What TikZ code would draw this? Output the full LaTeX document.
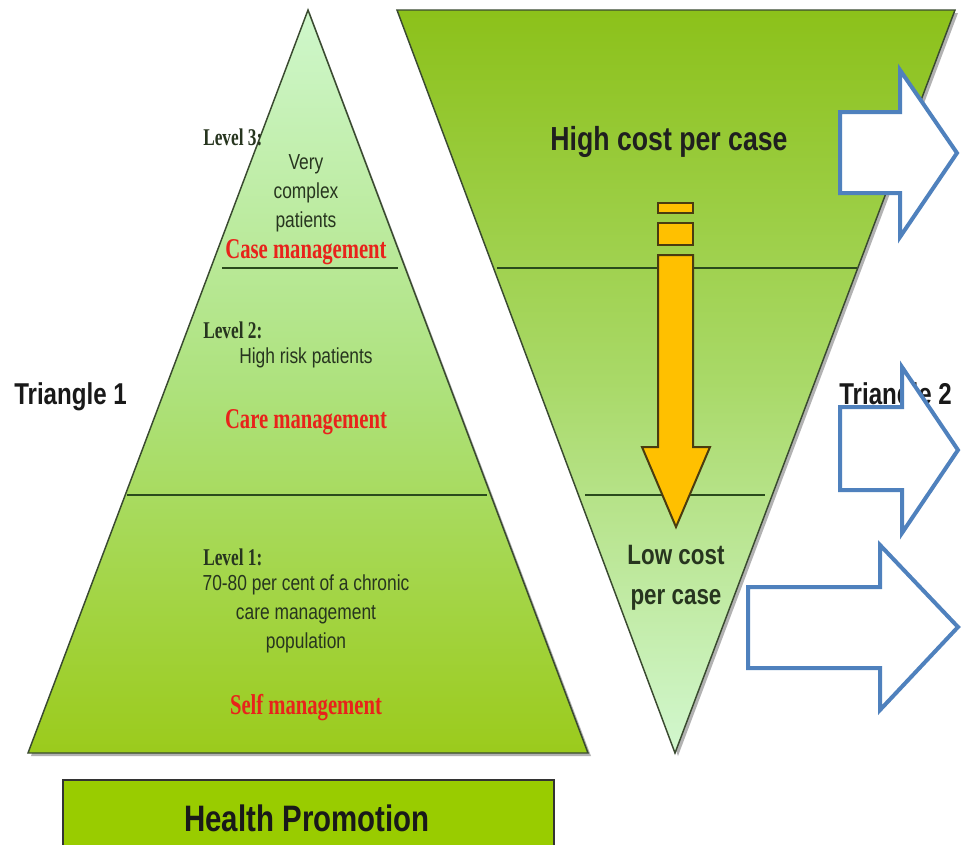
\documentclass[tikz,border=0pt]{standalone}
\usepackage{fontspec}
\setmainfont{Liberation Sans}
\newfontfamily\nsans[FakeStretch=0.8]{Liberation Sans}
\newfontfamily\nserif[FakeStretch=0.72]{Liberation Serif}
\definecolor{tone}{HTML}{27351F}
\definecolor{redlab}{HTML}{E8231B}
\definecolor{divline}{HTML}{2A4A1C}
\definecolor{blueA}{HTML}{4F81BD}
\definecolor{orangeA}{HTML}{FFC000}
\definecolor{orangeL}{HTML}{4A3C10}
\definecolor{hpgreen}{HTML}{99CC00}
\definecolor{edge}{HTML}{3A4A30}
\definecolor{tAlight}{HTML}{CFF7CC}
\definecolor{tAmid}{HTML}{AEE27E}
\definecolor{tAdark}{HTML}{9BCB1C}
\definecolor{tBdark}{HTML}{8CC11A}
\definecolor{tBmid}{HTML}{A9D968}
\definecolor{tBlight}{HTML}{D2F7CF}
\tikzset{
  bodytext/.style={inner sep=0pt, text=tone, font=\nsans\fontsize{16.3}{21.8}\selectfont, align=center},
  redtext/.style={inner sep=0pt, text=redlab, font=\nserif\bfseries\fontsize{21.5}{24}\selectfont},
  lvltext/.style={inner sep=0pt, text=tone, anchor=west, font=\nserif\bfseries\fontsize{18}{20}\selectfont},
  bigtext/.style={inner sep=0pt, text=black!90, font=\nsans\bfseries\fontsize{22.6}{27}\selectfont},
  divider/.style={draw=divline, line width=2pt},
  bluearrow/.style={draw=blueA, fill=white, line width=3pt, line join=miter},
  tri/.style={draw=edge, line width=1.1pt, line join=miter}
}
\begin{document}
\begin{tikzpicture}[x=0.75pt,y=-0.75pt]
\useasboundingbox (0,0) rectangle (961,844);
\clip (0,0) rectangle (961,844);
\fill[white] (0,0) rectangle (961,844);

% shadows
\fill[black!30] (310,13) -- (591,756) -- (31,756) -- cycle;
\fill[black!30] (400,13) -- (958,13) -- (678,756) -- cycle;

% Triangle 1
\shade[top color=tAlight, bottom color=tAdark, middle color=tAmid] (308,10) -- (588,753) -- (28,753) -- cycle;
\draw[tri] (308,10) -- (588,753) -- (28,753) -- cycle;
\draw[divider] (222,268) -- (398,268);
\draw[divider] (127,495) -- (487,495);

% Triangle 2
\shade[top color=tBdark, bottom color=tBlight, middle color=tBmid] (397,10) -- (955,10) -- (675,753) -- cycle;
\draw[tri] (397,10) -- (955,10) -- (675,753) -- cycle;
\draw[divider] (497,268) -- (857,268);
\draw[divider] (585,495) -- (765,495);

% Triangle 1 texts
\node[lvltext] (l3) at (203,137) {Level 3:};
\node[bodytext] (t3) at (306,193) {Very\\complex\\patients};
\node[redtext] (r3) at (306,252) {Case management};
\node[lvltext] (l2) at (203,330) {Level 2:};
\node[bodytext] (t2) at (306,358) {High risk patients};
\node[redtext] (r2) at (306,422) {Care management};
\node[lvltext] (l1) at (203,557) {Level 1:};
\node[bodytext] (t1) at (306,614) {70-80 per cent of a chronic\\care management\\population};
\node[redtext] (r1) at (306,708) {Self management};

\node[bigtext, anchor=west] (tr1) at (14,397) {Triangle 1};
\node[bigtext, anchor=west] (tr2) at (839,397) {Triangle 2};

% Triangle 2 texts
\node[inner sep=0pt, text=black!88, font=\nsans\bfseries\fontsize{25}{30}\selectfont] (hc) at (669,142) {High cost per case};
\node[inner sep=0pt, text=tone, align=center, font=\nsans\bfseries\fontsize{21}{30}\selectfont] (lc) at (676,578) {Low cost\\per case};

% orange arrow
\draw[fill=orangeA, draw=orangeL, line width=1.5pt, line join=miter]
  (658,255) -- (693,255) -- (693,447) -- (710,447) -- (676,527) -- (642,447) -- (658,447) -- cycle;
\draw[fill=orangeA, draw=orangeL, line width=1.5pt] (658,203) rectangle (693,213);
\draw[fill=orangeA, draw=orangeL, line width=1.5pt] (658,223) rectangle (693,245);

% blue arrows
\draw[bluearrow] (840,112) -- (900,112) -- (900,70) -- (957,153) -- (900,237) -- (900,193) -- (840,193) -- cycle;
\draw[bluearrow] (840,407) -- (902,407) -- (902,367) -- (958,450) -- (902,533) -- (902,490) -- (840,490) -- cycle;
\draw[bluearrow] (748,587) -- (880,587) -- (880,545) -- (958,627) -- (880,710) -- (880,668) -- (748,668) -- cycle;

% Health promotion box
\node[draw=black!80, line width=1.6pt, fill=hpgreen, minimum width=491*0.75pt, minimum height=80*0.75pt, anchor=north west, inner sep=0pt] (hp) at (62,779) {};
\node[inner sep=0pt, text=black!90, font=\nsans\bfseries\fontsize{27.6}{32}\selectfont] (hpt) at (307,818) {Health Promotion};
\end{tikzpicture}
\end{document}
